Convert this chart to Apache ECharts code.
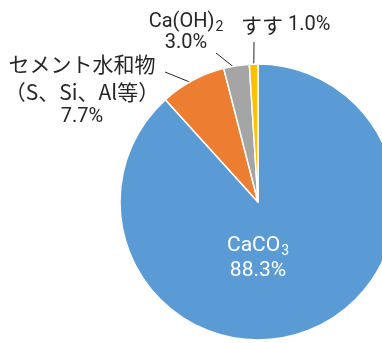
<!DOCTYPE html>
<html><head><meta charset="utf-8">
<script src="https://cdn.jsdelivr.net/npm/echarts@6/dist/echarts.min.js"></script>
<style>html,body{margin:0;padding:0;background:#fff}#c{width:382px;height:343px}</style>
</head><body><div id="c"></div>
<script>
const categories = ['CaCO3', 'セメント水和物（S、Si、Al等）', 'Ca(OH)2', 'すす'];
const values = [88.3, 7.7, 3.0, 1.0];
const labelMain = ['CaCO', 'セメント水和物\n（S、Si、Al等）', 'Ca(OH)', 'すす'];
const labelSub = ['3', '', '2', ''];
const colors = ['#5B9BD5', '#ED7D31', '#A5A5A5', '#FFC000'];

// layout / style constants
const CENTER = [258, 202];
const RADIUS = 138;
const labelPos = [[258, 258.5, 'center'], [82, 89, 'center'], [186, 32, 'center'], [241, 25, 'left']];
const lineStartOffset = [null, [83, -17], [30, 21], [13, 17]];
const LINE_INSET = 4;

const LAT = "Roboto,'Noto Sans CJK JP',sans-serif";
const CJK = "'Noto Sans CJK JP',sans-serif";

function fmt(i) {
  const pct = values[i].toFixed(1) + '%';
  if (i === 0) return '{w|' + labelMain[i] + '}{wsub|' + labelSub[i] + '}\n{w|' + pct + '}';
  if (i === 1) return '{j|' + labelMain[i] + '}\n{n|' + pct + '}';
  if (i === 2) return '{n|' + labelMain[i] + '}{sub|' + labelSub[i] + '}\n{n|' + pct + '}';
  return '{j|' + labelMain[i] + '}{n| ' + pct + '}';
}

const total = values.reduce((a, b) => a + b, 0);
function midAngle(i) {
  let cum = 0;
  for (let k = 0; k < i; k++) cum += values[k];
  return (cum + values[i] / 2) / total * 2 * Math.PI;
}

const data = categories.map((c, i) => ({
  name: c,
  value: values[i],
  itemStyle: { color: colors[i] },
  label: { position: i === 0 ? 'inside' : 'outside', formatter: fmt(i) },
  labelLine: { show: i !== 0 }
}));

const chart = echarts.init(document.getElementById('c'), null, { renderer: 'canvas' });
chart.setOption({
  animation: false,
  series: [{
    type: 'pie',
    center: CENTER,
    radius: RADIUS,
    startAngle: 90,
    clockwise: true,
    avoidLabelOverlap: false,
    itemStyle: { borderColor: '#fff', borderWidth: 1.5 },
    label: {
      show: true,
      overflow: 'none',
      rich: {
        w: { color: '#fff', fontSize: 21, fontFamily: LAT, lineHeight: 25 },
        wsub: { color: '#fff', fontSize: 14, fontFamily: LAT, lineHeight: 25, padding: [11, 0, 0, 1] },
        n: { color: '#262626', fontSize: 20, fontFamily: LAT, lineHeight: 21 },
        sub: { color: '#262626', fontSize: 14, fontFamily: LAT, lineHeight: 21, padding: [11, 0, 0, 1] },
        j: { color: '#262626', fontSize: 21, fontFamily: CJK, lineHeight: 28 }
      }
    },
    labelLine: { length: 15, length2: 0, lineStyle: { color: '#262626', width: 1 } },
    labelLayout: function (p) {
      const i = p.dataIndex;
      const q = labelPos[i];
      const out = { x: q[0], y: q[1], align: q[2], verticalAlign: 'middle' };
      if (lineStartOffset[i]) {
        const a = midAngle(i);
        const rr = RADIUS - LINE_INSET;
        out.labelLinePoints = [
          [q[0] + lineStartOffset[i][0], q[1] + lineStartOffset[i][1]],
          [CENTER[0] + rr * Math.sin(a), CENTER[1] - rr * Math.cos(a)]
        ];
      }
      return out;
    },
    data: data
  }]
});
</script></body></html>
